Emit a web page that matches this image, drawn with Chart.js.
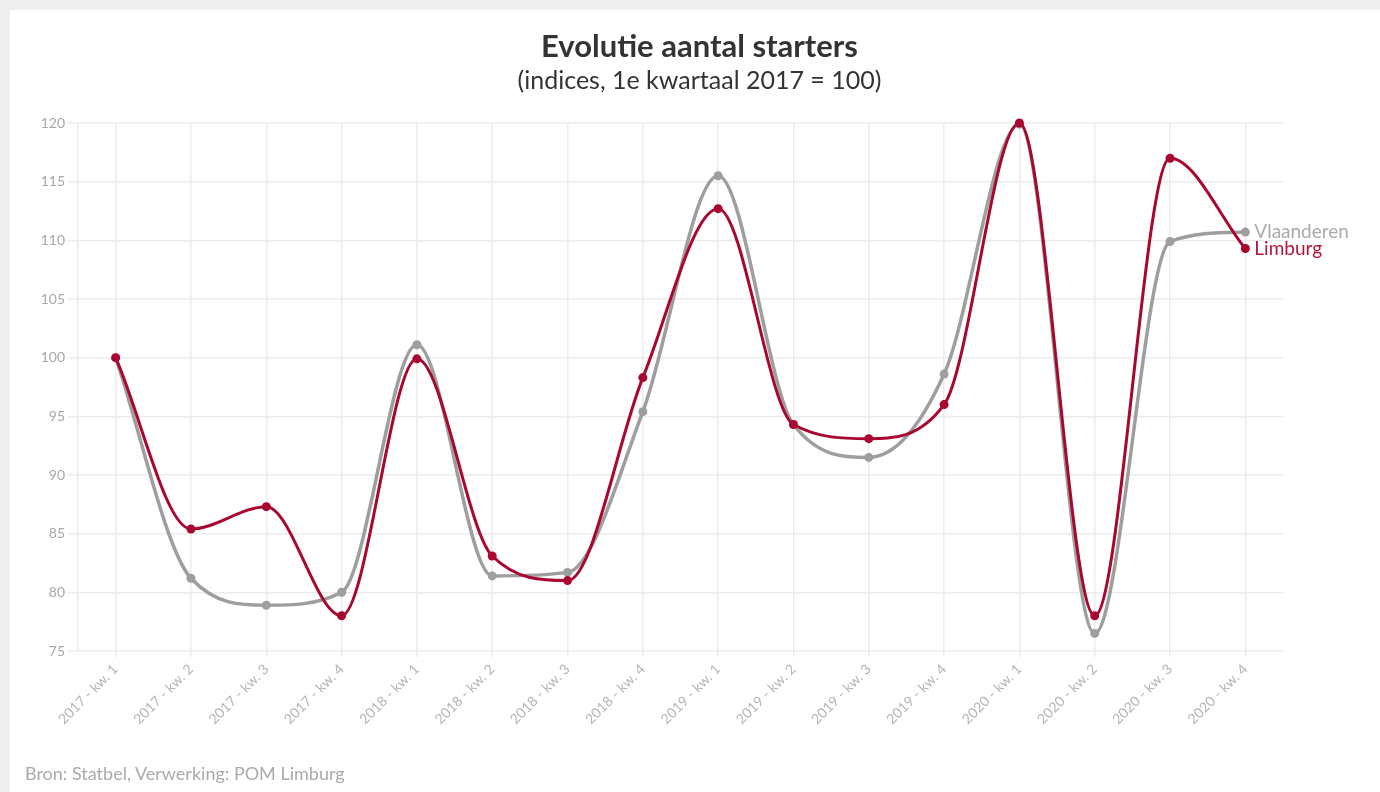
<!DOCTYPE html>
<html>
<head>
<meta charset="utf-8">
<script src="https://cdn.jsdelivr.net/npm/chart.js@4"></script>
<style>
  html, body { margin: 0; padding: 0; }
  body { width: 1380px; height: 792px; background: #efefef; overflow: hidden; font-family: Lato, sans-serif; }
  #card { position: absolute; left: 10px; top: 10px; width: 1370px; height: 782px; background: #fff; }
  #wrap { position: absolute; left: 10px; top: 10px; width: 1370px; height: 782px; }
  .title { position: absolute; left: 0; width: 1399px; text-align: center; color: #333; }
  #t1 { top: 28px; font-size: 31px; line-height: 34px; font-weight: 700; }
  #t2 { top: 64px; font-size: 25px; line-height: 30px; }
  #bron { position: absolute; left: 25px; top: 761px; font-size: 18px; line-height: 24px; color: #aaa; }
</style>
</head>
<body>
<div id="card"></div>
<div id="wrap"><canvas id="chartStarters"></canvas></div>
<div class="title" id="t1">Evolutie aantal starters</div>
<div class="title" id="t2">(indices, 1e kwartaal 2017 = 100)</div>
<div id="bron">Bron: Statbel, Verwerking: POM Limburg</div>
<script>
// categorieen (kwartalen)
const kwartalen = [
  "2017 - kw. 1", "2017 - kw. 2", "2017 - kw. 3", "2017 - kw. 4",
  "2018 - kw. 1", "2018 - kw. 2", "2018 - kw. 3", "2018 - kw. 4",
  "2019 - kw. 1", "2019 - kw. 2", "2019 - kw. 3", "2019 - kw. 4",
  "2020 - kw. 1", "2020 - kw. 2", "2020 - kw. 3", "2020 - kw. 4",
];
const limburg = [100, 85.4, 87.3, 78.0, 99.9, 83.1, 81.0, 98.3, 112.7, 94.3, 93.1, 96.0, 120.0, 78.0, 117.0, 109.3];
const vlaanderen = [100, 81.2, 78.9, 80.0, 101.1, 81.4, 81.7, 95.4, 115.5, 94.3, 91.5, 98.6, 119.9, 76.5, 109.9, 110.7];
const yMin = 75;
const yMax = 120;
const yStep = 5;

const ROOD = "#a8072f";
const GRIJS = "#9e9e9e";
const labelKleur = { Limburg: "#b3163b", Vlaanderen: "#ababab" };

// labels naast het laatste punt
const eindLabels = {
  id: "eindLabels",
  afterDatasetsDraw(chart) {
    const ctx = chart.ctx;
    ctx.save();
    ctx.font = "19px Lato";
    ctx.textBaseline = "middle";
    ctx.textAlign = "left";
    chart.data.datasets.forEach((ds, i) => {
      const meta = chart.getDatasetMeta(i);
      const last = meta.data[meta.data.length - 1];
      ctx.fillStyle = labelKleur[ds.label];
      ctx.fillText(ds.label, last.x + 9, last.y);
    });
    ctx.restore();
  },
};

const ctx = document.getElementById("chartStarters").getContext("2d");

new Chart(ctx, {
  type: "line",
  data: {
    labels: kwartalen,
    datasets: [
      {
        label: "Limburg",
        data: limburg,
        borderColor: ROOD,
        backgroundColor: ROOD,
        borderWidth: 3,
        pointRadius: 4.5,
        pointBorderWidth: 0,
        cubicInterpolationMode: "monotone",
        clip: false,
      },
      {
        label: "Vlaanderen",
        data: vlaanderen,
        borderColor: GRIJS,
        backgroundColor: GRIJS,
        borderWidth: 3.5,
        pointRadius: 4.5,
        pointBorderWidth: 0,
        cubicInterpolationMode: "monotone",
        clip: false,
      },
    ],
  },
  options: {
    responsive: true,
    maintainAspectRatio: false,
    animation: false,
    layout: { padding: { top: 113, right: 97, bottom: 0, left: 0 } },
    plugins: {
      legend: { display: false },
      tooltip: { enabled: false },
    },
    scales: {
      x: {
        offset: true,
        grid: { offset: false, color: "#ececec", lineWidth: 1.5, tickLength: 6 },
        border: { display: false },
        ticks: {
          color: "#b5b5b5",
          font: { family: "Lato", size: 14 },
          maxRotation: 45,
          minRotation: 45,
          padding: 4,
        },
        afterFit: (s) => { s.height = 141; },
      },
      y: {
        min: yMin,
        max: yMax,
        grid: { color: "#ececec", lineWidth: 1.5, tickLength: 10 },
        border: { color: "#ececec", width: 1.5 },
        ticks: {
          stepSize: yStep,
          color: "#a8a8a8",
          font: { family: "Lato", size: 14 },
          padding: 3,
        },
        afterFit: (s) => { s.width = 68; },
      },
    },
  },
  plugins: [eindLabels],
});
</script>
</body>
</html>
